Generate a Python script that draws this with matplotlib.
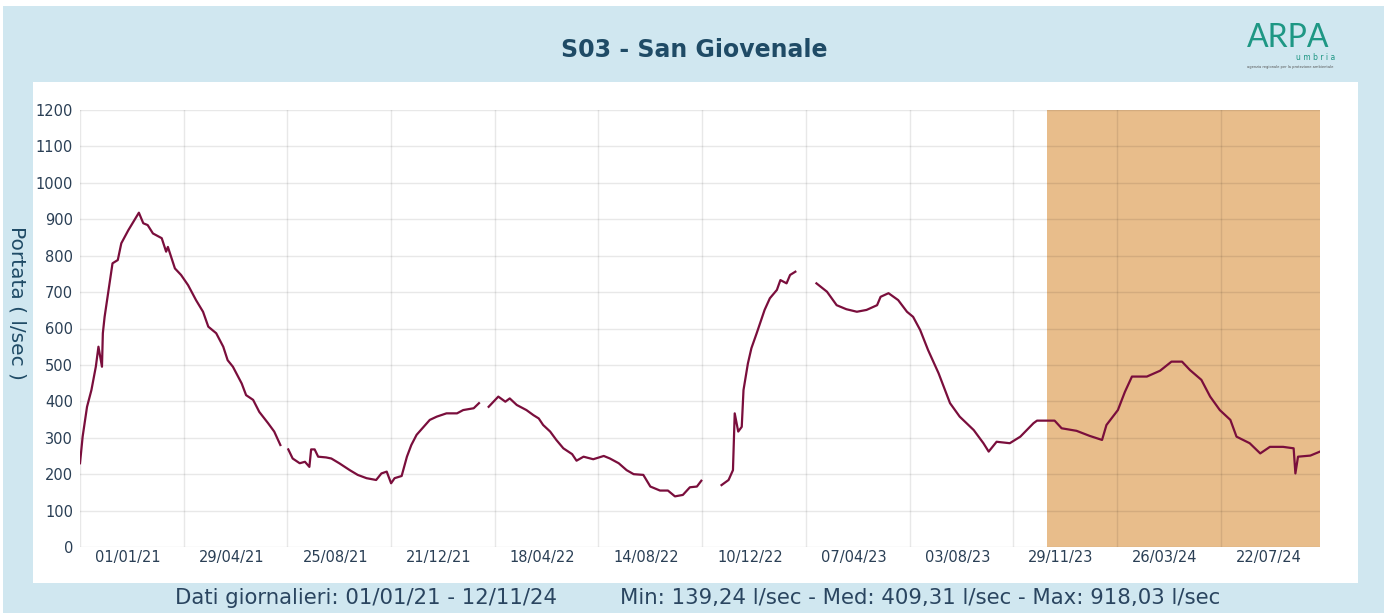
import numpy as np
import matplotlib
matplotlib.use("Agg")
import matplotlib.pyplot as plt
import matplotlib.transforms as mtransforms
from matplotlib.patches import Rectangle
import pandas as pd

title = "S03 - San Giovenale"
ylabel = "Portata ( l/sec )"
footer_left = "Dati giornalieri: 01/01/21 - 12/11/24"
footer_right = "Min: 139,24 l/sec - Med: 409,31 l/sec - Max: 918,03 l/sec"

dates = [
    "2021-01-01", "2021-01-04", "2021-01-09", "2021-01-14", "2021-01-19", "2021-01-22",
    "2021-01-26", "2021-01-27", "2021-01-29", "2021-02-02", "2021-02-07", "2021-02-13",
    "2021-02-17", "2021-02-25", "2021-03-04", "2021-03-09", "2021-03-14", "2021-03-19",
    "2021-03-25", "2021-04-04", "2021-04-09", "2021-04-11", "2021-04-19", "2021-04-26",
    "2021-05-04", "2021-05-13", "2021-05-21", "2021-05-27", "2021-06-05", "2021-06-13",
    "2021-06-18", "2021-06-24", "2021-07-04", "2021-07-09", "2021-07-17", "2021-07-24",
    "2021-08-03", "2021-08-10", "2021-08-17",
    "2021-08-21",
    "2021-08-26", "2021-08-31", "2021-09-08", "2021-09-14", "2021-09-19", "2021-09-21",
    "2021-09-25", "2021-09-29", "2021-10-08", "2021-10-14", "2021-10-23", "2021-11-04",
    "2021-11-13", "2021-11-23", "2021-12-04", "2021-12-10", "2021-12-16", "2021-12-21",
    "2021-12-25", "2022-01-02", "2022-01-08", "2022-01-13", "2022-01-19", "2022-01-27",
    "2022-02-03", "2022-02-11", "2022-02-22", "2022-03-06", "2022-03-13", "2022-03-25",
    "2022-03-31",
    "2022-04-05",
    "2022-04-11", "2022-04-22", "2022-04-30", "2022-05-05", "2022-05-13", "2022-05-24",
    "2022-06-01", "2022-06-07", "2022-06-12", "2022-06-20", "2022-06-27", "2022-07-05",
    "2022-07-15", "2022-07-20", "2022-07-28", "2022-08-08", "2022-08-20", "2022-08-27",
    "2022-09-06", "2022-09-15", "2022-09-23", "2022-10-04", "2022-10-12", "2022-10-23",
    "2022-11-01", "2022-11-09", "2022-11-18", "2022-11-26", "2022-12-04", "2022-12-09",
    "2022-12-20",
    "2023-01-01", "2023-01-09", "2023-01-14", "2023-01-16", "2023-01-20", "2023-01-24",
    "2023-01-26", "2023-01-31", "2023-02-04", "2023-02-10", "2023-02-19", "2023-02-25",
    "2023-03-05", "2023-03-09", "2023-03-16", "2023-03-20", "2023-03-26",
    "2023-04-07",
    "2023-04-19", "2023-05-01", "2023-05-12", "2023-05-23", "2023-06-04", "2023-06-15",
    "2023-06-27", "2023-07-01", "2023-07-10", "2023-07-21", "2023-07-31", "2023-08-07",
    "2023-08-15", "2023-08-24", "2023-09-05", "2023-09-18", "2023-09-29", "2023-10-15",
    "2023-10-26", "2023-11-01", "2023-11-10", "2023-11-25", "2023-12-07", "2023-12-22",
    "2023-12-26", "2024-01-15", "2024-01-23", "2024-02-09", "2024-02-24", "2024-03-09",
    "2024-03-14", "2024-03-27", "2024-04-04", "2024-04-12", "2024-04-29", "2024-05-14",
    "2024-05-27", "2024-06-08", "2024-06-17", "2024-06-30", "2024-07-10", "2024-07-21",
    "2024-08-02", "2024-08-09", "2024-08-24", "2024-09-05", "2024-09-16", "2024-10-01",
    "2024-10-13", "2024-10-15", "2024-10-18", "2024-11-01", "2024-11-12",
]
values = [
    230, 303, 385, 431, 495, 550,
    495, 587, 632, 697, 779, 788,
    834, 870, 898, 918, 889, 884,
    861, 848, 811, 824, 765, 747,
    719, 678, 646, 605, 587, 550,
    513, 495, 449, 417, 404, 371,
    340, 317, 280,
    np.nan,
    268, 243, 230, 234, 220, 268,
    268, 248, 246, 243, 230, 211,
    198, 189, 184, 202, 207, 175,
    189, 195, 248, 280, 308, 330,
    349, 358, 367, 367, 376, 381,
    395,
    np.nan,
    385, 413, 399, 408, 390, 376,
    362, 353, 335, 317, 294, 271,
    255, 237, 248, 241, 250, 243,
    230, 211, 200, 198, 166, 155,
    155, 139, 143, 164, 166, 182,
    np.nan,
    170, 184, 211, 367, 317, 330,
    431, 504, 546, 587, 651, 683,
    706, 733, 724, 747, 756,
    np.nan,
    724, 701, 664, 653, 646, 651,
    664, 687, 697, 678, 646, 632,
    596, 541, 477, 395, 358, 321,
    285, 262, 289, 285, 303, 340,
    347, 347, 326, 319, 305, 294,
    335, 376, 426, 468, 468, 484,
    509, 509, 486, 459, 413, 376,
    349, 303, 285, 257, 275, 275,
    271, 202, 248, 251, 262,
]

tick_dates = ["2021-01-01", "2021-04-29", "2021-08-25", "2021-12-21", "2022-04-18",
              "2022-08-14", "2022-12-10", "2023-04-07", "2023-08-03", "2023-11-29",
              "2024-03-26", "2024-07-22"]
tick_labels = ["01/01/21", "29/04/21", "25/08/21", "21/12/21", "18/04/22", "14/08/22",
               "10/12/22", "07/04/23", "03/08/23", "29/11/23", "26/03/24", "22/07/24"]
y_ticks = list(range(0, 1201, 100))
x_start, x_end = "2021-01-01", "2024-11-12"
shade_start, shade_end = "2024-01-06", "2024-11-12"

W, H = 1384, 613
fig = plt.figure(figsize=(W / 100, H / 100), dpi=100, facecolor="white")


def fx(px):
    return px / W


def fy(py):
    return 1 - py / H


# light blue frame and white panel (behind the axes)
fig.patches.append(Rectangle((fx(3), 0), fx(W) - fx(3), fy(6), transform=fig.transFigure,
                             facecolor="#d0e7f0", edgecolor="none", zorder=-10))
fig.patches.append(Rectangle((fx(33), fy(583)), fx(1358) - fx(33), fy(82) - fy(583),
                             transform=fig.transFigure, facecolor="white",
                             edgecolor="none", zorder=-9))

ax = fig.add_axes([fx(80), fy(547), fx(1320) - fx(80), fy(110) - fy(547)], zorder=5)
ax.patch.set_alpha(0)

d = pd.to_datetime(dates)
ax.axvspan(pd.Timestamp(shade_start), pd.Timestamp(shade_end), color="#e8bd8b",
           zorder=1, lw=0)
ax.plot(d, values, color="#7a0e3c", lw=1.6, zorder=3)

ax.set_xlim(pd.Timestamp(x_start), pd.Timestamp(x_end))
ax.set_ylim(0, 1200)
ax.set_yticks(y_ticks)
ax.set_xticks(pd.to_datetime(tick_dates))
ax.set_xticklabels(tick_labels)
ax.grid(True, color="#000000", alpha=0.09, lw=1, zorder=2)
ax.set_axisbelow(False)
for s in ax.spines.values():
    s.set_visible(False)
ax.tick_params(axis="both", length=0, labelsize=10.5, labelcolor="#2a3f55")
ax.tick_params(axis="y", pad=5)
ax.tick_params(axis="x", pad=2)
offset = mtransforms.ScaledTranslation(15 / 100, 0, fig.dpi_scale_trans)
for lbl in ax.get_xticklabels():
    lbl.set_horizontalalignment("left")
    lbl.set_transform(lbl.get_transform() + offset)

fig.text(fx(694), fy(50), title, ha="center", va="center", fontsize=17,
         fontweight="bold", color="#1f4b66")
fig.text(fx(17), fy(303), ylabel, ha="center", va="center", rotation=-90,
         fontsize=14.5, color="#1f4b66")
fig.text(fx(175), fy(598), footer_left, ha="left", va="center", fontsize=15.3,
         color="#2a4560")
fig.text(fx(1220), fy(598), footer_right, ha="right", va="center", fontsize=15.3,
         color="#2a4560")

# logo
fig.text(fx(1288), fy(38), "ARPA", ha="center", va="center", fontsize=23,
         family="Lato", color="#1e9784")
fig.text(fx(1335), fy(57), "u m b r i a", ha="right", va="center", fontsize=5.5,
         color="#1e9784")
fig.text(fx(1290), fy(67), "agenzia regionale per la protezione ambientale",
         ha="center", va="center", fontsize=2.6, color="#555555")

fig.savefig("out.png", dpi=100, facecolor="white")
